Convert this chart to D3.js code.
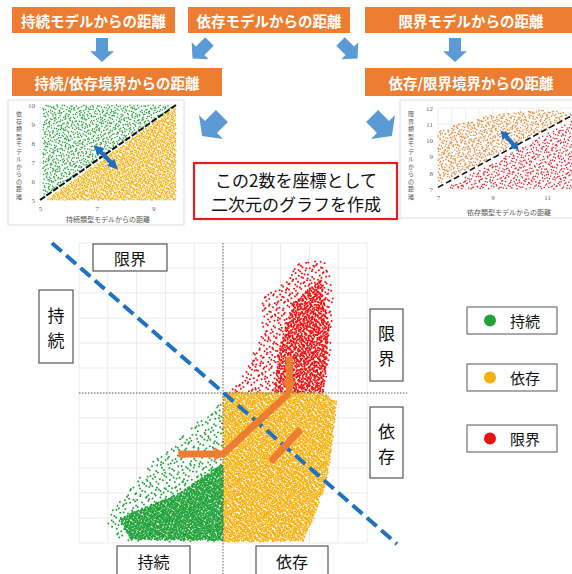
<!DOCTYPE html>
<html><head><meta charset="utf-8">
<script src="https://cdn.jsdelivr.net/npm/d3@7"></script>
<style>body{margin:0;background:#fff}svg{display:block;font-family:"Noto Sans CJK JP",sans-serif}</style>
</head><body>
<svg id="c" width="572" height="574"></svg>
<script>
// header boxes and labels
const topBoxes = ["持続モデルからの距離", "依存モデルからの距離", "限界モデルからの距離"];
const midBoxes = ["持続/依存境界からの距離", "依存/限界境界からの距離"];
const noteLines = ["この2数を座標として", "二次元のグラフを作成"];
const quadLabels = ["限界", "持続", "限界", "依存", "持続", "依存"];
const legendItems = [["持続", "#22a33a"], ["依存", "#f7b10f"], ["限界", "#ee1111"]];

// point cloud outlines (main chart, data units)
const redCloud = [[0.24,0.04],[0.69,0.68],[1.28,2.16],[1.39,3.88],[1.98,4.28],[2.67,5.24],[3.61,5.28],[3.82,3.88],[3.72,1.24],[3.47,0]];
const redCore = [[1.8,0],[3.5,0],[3.7,2.5],[3.4,4.6],[2.4,3.6],[1.9,1.5]];
const orangeCloud = [[0,0.04],[3.47,0],[3.96,-0.36],[3.78,-2.12],[3.61,-3.44],[3.13,-5.04],[2.78,-5.92],[0,-5.96]];
const greenCloud = [[0,-0.36],[-0.9,-1.16],[-1.6,-1.96],[-2.43,-2.76],[-3.23,-3.84],[-3.92,-4.76],[-4.03,-5.32],[-3.58,-5.92],[0,-5.96]];
const greenCore = [[0,-2.8],[-1.5,-4.0],[-3.6,-5.0],[-3.2,-5.85],[0,-5.9]];
// small chart outlines
const leftGreen = [[5.1,5.1],[9.8,10],[5.1,10]];
const leftOrange = [[5.2,5],[9.8,5],[9.8,9.9]];
const rightOrangeCut = [[7,7.3],[12,11.6],[11,11.9],[9,11.6],[7,10.6]];
const rightRed = [[7.2,7],[12.2,7],[12.2,11.5]];

const svg = d3.select("#c");
const ORANGE = "#ed7d31", BLUE = "#5b9bd5";

function halton(i, b) { let f = 1, r = 0; while (i > 0) { f /= b; r += f * (i % b); i = Math.floor(i / b); } return r; }

function fillCloud(g, poly, n, color, sx, sy, r, seed) {
  const xs = poly.map(d => d[0]), ys = poly.map(d => d[1]);
  const x0 = d3.min(xs), x1 = d3.max(xs), y0 = d3.min(ys), y1 = d3.max(ys);
  const pts = [];
  for (let i = seed; pts.length < n && i < seed + n * 8; i++) {
    const p = [x0 + (x1 - x0) * halton(i, 2), y0 + (y1 - y0) * halton(i, 3)];
    if (d3.polygonContains(poly, p)) pts.push(p);
  }
  g.selectAll(null).data(pts).join("circle")
    .attr("cx", d => sx(d[0])).attr("cy", d => sy(d[1])).attr("r", r).attr("fill", color);
}

function box(x, y, w, h, text, fill, stroke, color, size, vertical) {
  svg.append("rect").attr("x", x).attr("y", y).attr("width", w).attr("height", h)
    .attr("fill", fill).attr("stroke", stroke).attr("stroke-width", stroke === "none" ? 0 : 1.2);
  if (vertical) {
    [...text].forEach((c, i) => svg.append("text").attr("x", x + w / 2).attr("y", y + h / 2 + (i - (text.length - 1) / 2) * (size + 8))
      .attr("text-anchor", "middle").attr("dominant-baseline", "central").attr("font-size", size).attr("fill", color).text(c));
  } else {
    svg.append("text").attr("x", x + w / 2).attr("y", y + h / 2).attr("text-anchor", "middle")
      .attr("dominant-baseline", "central").attr("font-size", size).attr("font-weight", fill === ORANGE ? "bold" : "normal")
      .attr("fill", color).text(text);
  }
}

// block arrow pointing down, centred at (cx,cy), rotated by angle
function blockArrow(cx, cy, len, wid, angle) {
  const s = wid / 2, h = len * 0.45;
  const shape = [[-s*0.5,-len/2],[s*0.5,-len/2],[s*0.5,len/2-h],[s,len/2-h],[0,len/2],[-s,len/2-h],[-s*0.5,len/2-h]];
  svg.append("polygon").attr("points", shape.map(p => p.join(",")).join(" "))
    .attr("fill", BLUE).attr("transform", `translate(${cx},${cy}) rotate(${angle})`);
}
function doubleArrow(x1, y1, x2, y2, w) {
  const L = Math.hypot(x2 - x1, y2 - y1), a = Math.atan2(y2 - y1, x2 - x1) * 180 / Math.PI, h = L * 0.3;
  const sh = [[0,0],[h,-w],[h,-w/2.4],[L-h,-w/2.4],[L-h,-w],[L,0],[L-h,w],[L-h,w/2.4],[h,w/2.4],[h,w]];
  svg.append("polygon").attr("points", sh.map(p => p.join(",")).join(" ")).attr("fill", "#1f6fc0")
    .attr("transform", `translate(${x1},${y1}) rotate(${a})`);
}

// header
box(12, 7, 163, 26, topBoxes[0], ORANGE, "none", "#fff", 14.5);
box(188, 7, 162, 26, topBoxes[1], ORANGE, "none", "#fff", 14.5);
box(365, 7, 212, 26, topBoxes[2], ORANGE, "none", "#fff", 14.5);
box(12, 68, 210, 28, midBoxes[0], ORANGE, "none", "#fff", 14.5);
box(365, 68, 212, 28, midBoxes[1], ORANGE, "none", "#fff", 14.5);
blockArrow(102, 50, 24, 24, 0);
blockArrow(201, 50, 24, 24, 45);
blockArrow(349, 50, 24, 24, -45);
blockArrow(455, 50, 24, 24, 0);
blockArrow(212, 126, 28, 34, 45);
blockArrow(382, 126, 28, 34, -45);

// small chart helper
function smallChart(fx, fy, fw, fh, sx, sy, xt, yt, xlab, ylab) {
  svg.append("rect").attr("x", fx).attr("y", fy).attr("width", fw).attr("height", fh).attr("fill", "#fff").attr("stroke", "#ddd");
  const g = svg.append("g");
  g.selectAll(null).data(sx.ticks(8)).join("line").attr("x1", d => sx(d)).attr("x2", d => sx(d))
    .attr("y1", sy.range()[0]).attr("y2", sy.range()[1]).attr("stroke", "#e4e4e4").attr("stroke-width", 0.6);
  g.selectAll(null).data(sy.ticks(6)).join("line").attr("y1", d => sy(d)).attr("y2", d => sy(d))
    .attr("x1", sx.range()[0]).attr("x2", sx.range()[1]).attr("stroke", "#e4e4e4").attr("stroke-width", 0.6);
  g.append("g").attr("transform", `translate(0,${sy.range()[0] + 3})`)
    .call(d3.axisBottom(sx).tickValues(xt).tickSize(0).tickFormat(d3.format("d")))
    .call(a => a.select(".domain").remove()).selectAll("text").attr("font-size", 7).attr("fill", "#666").attr("font-family", "Liberation Serif");
  g.append("g").attr("transform", `translate(${sx.range()[0] - 2},0)`)
    .call(d3.axisLeft(sy).tickValues(yt).tickSize(0).tickFormat(d3.format("d")))
    .call(a => a.select(".domain").remove()).selectAll("text").attr("font-size", 7).attr("fill", "#666").attr("font-family", "Liberation Serif");
  svg.append("text").attr("x", (sx.range()[0] + sx.range()[1]) / 2).attr("y", fy + fh - 3).attr("text-anchor", "middle")
    .attr("font-size", 7).attr("fill", "#555").text(xlab);
  [...ylab].forEach((c, i) => svg.append("text").attr("x", fx + 11).attr("y", fy + 16 + i * 7.5)
    .attr("text-anchor", "middle").attr("font-size", 6).attr("fill", "#555").text(c));
  return g;
}

// left small chart
const lx = d3.scaleLinear().domain([5, 9.8]).range([40, 176]);
const ly = d3.scaleLinear().domain([5, 10]).range([200, 105]);
const lg = smallChart(8, 100, 176, 125, lx, ly, [5, 7, 9], [5, 6, 7, 8, 9, 10], "持続類型モデルからの距離", "依存類型モデルからの距離");
fillCloud(lg, leftGreen, 900, "#22a33a", lx, ly, 0.8, 11);
fillCloud(lg, leftOrange, 2200, "#f7b10f", lx, ly, 0.8, 17);
lg.append("line").attr("x1", lx(5)).attr("y1", ly(5)).attr("x2", lx(9.8)).attr("y2", ly(10))
  .attr("stroke", "#111").attr("stroke-width", 2).attr("stroke-dasharray", "6,2");
doubleArrow(lx(6.9), ly(7.9), lx(7.75), ly(6.6), 5);

// right small chart
const rx = d3.scaleLinear().domain([7, 12.2]).range([438, 580]);
const ry = d3.scaleLinear().domain([7, 12]).range([189, 108]);
const rg = smallChart(400, 100, 180, 118, rx, ry, [7, 9, 11], [7, 8, 9, 10, 11, 12], "依存類型モデルからの距離", "限界類型モデルからの距離");
fillCloud(rg, rightOrangeCut, 700, "#e8893a", rx, ry, 0.8, 23);
fillCloud(rg, rightRed, 600, "#e0262e", rx, ry, 0.8, 31);
rg.append("line").attr("x1", rx(7)).attr("y1", ry(7.1)).attr("x2", rx(12.2)).attr("y2", ry(11.8))
  .attr("stroke", "#111").attr("stroke-width", 1.6).attr("stroke-dasharray", "6,3");
doubleArrow(rx(9.3), ry(10.6), rx(9.95), ry(9.4), 5);

// note box
svg.append("rect").attr("x", 194).attr("y", 163).attr("width", 203).attr("height", 56).attr("fill", "#fff")
  .attr("stroke", "#e02020").attr("stroke-width", 2.2);
noteLines.forEach((t, i) => svg.append("text").attr("x", 296).attr("y", 179 + i * 24).attr("text-anchor", "middle")
  .attr("dominant-baseline", "central").attr("font-size", 17).attr("fill", "#111").text(t));

// main chart
const mx = d3.scaleLinear().domain([-5, 5]).range([79, 367]);
const my = d3.scaleLinear().domain([-6, 6]).range([543, 243]);
const mg = svg.append("g");
mg.selectAll(null).data(d3.range(-5, 6)).join("line").attr("x1", d => mx(d)).attr("x2", d => mx(d))
  .attr("y1", my(-6)).attr("y2", my(6)).attr("stroke", "#e6e6e6").attr("stroke-width", 0.8);
mg.selectAll(null).data(d3.range(-6, 7)).join("line").attr("y1", d => my(d)).attr("y2", d => my(d))
  .attr("x1", mx(-5)).attr("x2", mx(5)).attr("stroke", "#e6e6e6").attr("stroke-width", 0.8);
fillCloud(mg, redCloud, 650, "#ee1111", mx, my, 1, 41);
fillCloud(mg, redCore, 1000, "#ee1111", mx, my, 1, 53);
fillCloud(mg, orangeCloud, 5000, "#f7b10f", mx, my, 1, 67);
fillCloud(mg, greenCloud, 600, "#22a33a", mx, my, 1, 79);
fillCloud(mg, greenCore, 1900, "#22a33a", mx, my, 1, 97);
mg.append("line").attr("x1", mx(0)).attr("x2", mx(0)).attr("y1", my(6)).attr("y2", 574)
  .attr("stroke", "#666").attr("stroke-width", 1).attr("stroke-dasharray", "1.5,1.5");
mg.append("line").attr("x1", mx(-5)).attr("x2", mx(6.4)).attr("y1", my(0)).attr("y2", my(0))
  .attr("stroke", "#666").attr("stroke-width", 1).attr("stroke-dasharray", "1.5,1.5");
// decision line
mg.append("line").attr("x1", mx(-5.94)).attr("y1", my(6)).attr("x2", mx(6.04)).attr("y2", my(-6.04))
  .attr("stroke", "#1f72bf").attr("stroke-width", 4).attr("stroke-dasharray", "13,6");
// orange path arrows
const og = mg.append("g").attr("stroke", ORANGE).attr("stroke-width", 7).attr("fill", "none");
og.append("polyline").attr("points", [[mx(-1.55), my(-2.44)], [mx(0), my(-2.44)], [mx(2.3), my(0)]].map(p => p.join(",")).join(" "));
og.append("line").attr("x1", mx(2.3)).attr("x2", mx(2.3)).attr("y1", my(1.45)).attr("y2", my(0));
og.append("line").attr("x1", mx(1.65)).attr("y1", my(-2.75)).attr("x2", mx(2.7)).attr("y2", my(-1.45));
mg.append("polygon").attr("points", [[mx(2.3) - 7, my(0.5)], [mx(2.3) + 7, my(0.5)], [mx(2.3), my(0) + 2]].map(p => p.join(",")).join(" ")).attr("fill", ORANGE);
mg.append("polygon").attr("points", [[mx(-0.3), my(-2.44) - 7], [mx(-0.3), my(-2.44) + 7], [mx(0) + 2, my(-2.44)]].map(p => p.join(",")).join(" ")).attr("fill", ORANGE);

// quadrant labels
box(93, 244, 74, 27, quadLabels[0], "#fff", "#555", "#111", 16);
box(39, 290, 34, 73, quadLabels[1], "#fff", "#555", "#111", 17, true);
box(370, 309, 33, 72, quadLabels[2], "#fff", "#555", "#111", 17, true);
box(370, 407, 33, 71, quadLabels[3], "#fff", "#555", "#111", 17, true);
box(117, 546, 73, 30, quadLabels[4], "#fff", "#555", "#111", 16);
box(256, 546, 72, 30, quadLabels[5], "#fff", "#555", "#111", 16);

// legend
legendItems.forEach(([t, c], i) => {
  const y = [307, 364, 425][i];
  svg.append("rect").attr("x", 467).attr("y", y).attr("width", 90).attr("height", 27).attr("fill", "#fff").attr("stroke", "#555");
  svg.append("circle").attr("cx", 490).attr("cy", y + 13.5).attr("r", 6).attr("fill", c);
  svg.append("text").attr("x", 510).attr("y", y + 13.5).attr("dominant-baseline", "central").attr("font-size", 15).attr("fill", "#111").text(t);
});
</script>
</body></html>
